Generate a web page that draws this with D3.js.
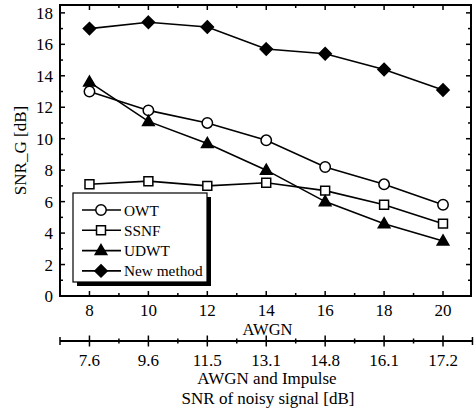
<!DOCTYPE html>
<html><head><meta charset="utf-8">
<script src="https://cdn.jsdelivr.net/npm/d3@7"></script>
<style>
body{margin:0;background:#fff;}
text{font-family:"Liberation Serif","Times New Roman",serif;fill:#000;}
</style></head>
<body><svg id="c" width="476" height="410"></svg>
<script>
const awgn = [8, 10, 12, 14, 16, 18, 20];
const mixedLabels = ["7.6", "9.6", "11.5", "13.1", "14.8", "16.1", "17.2"];
const owt = [13.0, 11.8, 11.0, 9.9, 8.2, 7.1, 5.8];
const ssnf = [7.1, 7.3, 7.0, 7.2, 6.7, 5.8, 4.6];
const udwt = [13.6, 11.1, 9.7, 8.0, 6.0, 4.6, 3.5];
const newMethod = [17.0, 17.4, 17.1, 15.7, 15.4, 14.4, 13.1];
const seriesNames = ["OWT", "SSNF", "UDWT", "New method"];
const yTicks = [0, 2, 4, 6, 8, 10, 12, 14, 16, 18];

const svg = d3.select("#c");
const L = 60, R = 471, T = 5, B = 296;
const x = d3.scaleLinear().domain([7, 20.95]).range([L, R]);
const x2 = d3.scaleLinear().domain([7, 21]).range([x(7), x(21)]);
const y = d3.scaleLinear().domain([0, 18.5]).range([B, T]);

// frame
svg.append("rect").attr("x", L).attr("y", T).attr("width", R - L).attr("height", B - T)
  .attr("fill", "none").attr("stroke", "#000").attr("stroke-width", 2);

const minorX = d3.range(8, 21, 1);
const minorY = d3.range(0, 19, 1);
function ticksX(g, dir) {
  minorX.forEach(v => {
    const len = (v % 2 === 0) ? 5 : 3;
    g.append("line").attr("x1", x(v)).attr("x2", x(v)).attr("y1", 0).attr("y2", dir * len)
      .attr("stroke", "#000").attr("stroke-width", 1.5);
  });
}
function ticksY(g, dir) {
  minorY.forEach(v => {
    const len = (v % 2 === 0) ? 5 : 3;
    g.append("line").attr("y1", y(v)).attr("y2", y(v)).attr("x1", 0).attr("x2", dir * len)
      .attr("stroke", "#000").attr("stroke-width", 1.5);
  });
}
ticksX(svg.append("g").attr("transform", `translate(0,${B})`), -1);
ticksX(svg.append("g").attr("transform", `translate(0,${T})`), 1);
ticksY(svg.append("g").attr("transform", `translate(${L},0)`), 1);
ticksY(svg.append("g").attr("transform", `translate(${R},0)`), -1);

// tick labels
svg.append("g").selectAll("text").data(yTicks).join("text")
  .attr("x", 53).attr("y", d => y(d) + 6).attr("text-anchor", "end")
  .attr("font-size", 17).text(d => d);
svg.append("g").selectAll("text").data(awgn).join("text")
  .attr("x", d => x(d)).attr("y", 316).attr("text-anchor", "middle")
  .attr("font-size", 17).text(d => d);
svg.append("text").attr("x", (L + R) / 2 + 2).attr("y", 335).attr("text-anchor", "middle")
  .attr("font-size", 16.5).text("AWGN");

// second axis
const ax2y = 341;
const g2 = svg.append("g").attr("transform", `translate(0,${ax2y})`);
g2.append("line").attr("x1", x2(7)).attr("x2", x2(21)).attr("stroke", "#000").attr("stroke-width", 2);
d3.range(7, 22, 1).forEach(v => {
  let len = 2.5;
  if (v === 7 || v === 21) len = 4;
  else if (v % 2 === 0) len = 5.5;
  g2.append("line").attr("x1", x2(v)).attr("x2", x2(v)).attr("y1", -len).attr("y2", len)
    .attr("stroke", "#000").attr("stroke-width", 1.5);
});
svg.append("g").selectAll("text").data(awgn).join("text")
  .attr("x", d => x2(d)).attr("y", 366).attr("text-anchor", "middle")
  .attr("font-size", 17).text((d, i) => mixedLabels[i]);
svg.append("text").attr("x", 267).attr("y", 384).attr("text-anchor", "middle")
  .attr("font-size", 17).text("AWGN and Impulse");
svg.append("text").attr("x", 268).attr("y", 404).attr("text-anchor", "middle")
  .attr("font-size", 17).text("SNR of noisy signal [dB]");

// y label
svg.append("text").attr("transform", `translate(26,${(T + B) / 2}) rotate(-90)`)
  .attr("text-anchor", "middle").attr("font-size", 17).text("SNR_G [dB]");

// markers
const diamond = { draw(ctx, size) { const r = Math.sqrt(size / 2); ctx.moveTo(0, -r); ctx.lineTo(r, 0); ctx.lineTo(0, r); ctx.lineTo(-r, 0); ctx.closePath(); } };
const triangle = { draw(ctx, size) { const s = Math.sqrt(size * 4 / Math.sqrt(3)); const h = s * Math.sqrt(3) / 2; ctx.moveTo(0, -h * 0.6); ctx.lineTo(s / 2, h * 0.4); ctx.lineTo(-s / 2, h * 0.4); ctx.closePath(); } };
const specs = [
  { vals: owt, type: d3.symbolCircle, size: 85, fill: "#fff" },
  { vals: ssnf, type: d3.symbolSquare, size: 80, fill: "#fff" },
  { vals: udwt, type: triangle, size: 58, fill: "#000" },
  { vals: newMethod, type: diamond, size: 75, fill: "#000" }
];
const line = d3.line().x(d => x(d[0])).y(d => y(d[1]));
specs.forEach(s => {
  const pts = awgn.map((a, i) => [a, s.vals[i]]);
  svg.append("path").attr("d", line(pts)).attr("fill", "none").attr("stroke", "#000").attr("stroke-width", 1.6);
});
specs.forEach(s => {
  const pts = awgn.map((a, i) => [a, s.vals[i]]);
  svg.append("g").selectAll("path").data(pts).join("path")
    .attr("transform", d => `translate(${x(d[0])},${y(d[1])})`)
    .attr("d", d3.symbol().type(s.type).size(s.size))
    .attr("fill", s.fill).attr("stroke", "#000").attr("stroke-width", 1.5);
});

// legend
const lg = { x: 73, y: 193, w: 134, h: 89 };
svg.append("rect").attr("x", lg.x + 4).attr("y", lg.y + 4).attr("width", lg.w).attr("height", lg.h).attr("fill", "#000");
svg.append("rect").attr("x", lg.x).attr("y", lg.y).attr("width", lg.w).attr("height", lg.h)
  .attr("fill", "#fff").attr("stroke", "#000").attr("stroke-width", 1.2);
seriesNames.forEach((n, i) => {
  const yy = 210 + i * 20.3;
  svg.append("line").attr("x1", 82).attr("x2", 121).attr("y1", yy).attr("y2", yy)
    .attr("stroke", "#000").attr("stroke-width", 1.6);
  svg.append("path").attr("transform", `translate(101,${yy})`)
    .attr("d", d3.symbol().type(specs[i].type).size(specs[i].size))
    .attr("fill", specs[i].fill).attr("stroke", "#000").attr("stroke-width", 1.5);
  svg.append("text").attr("x", 124).attr("y", yy + 5.5).attr("font-size", 15.3).text(n);
});
</script></body></html>
